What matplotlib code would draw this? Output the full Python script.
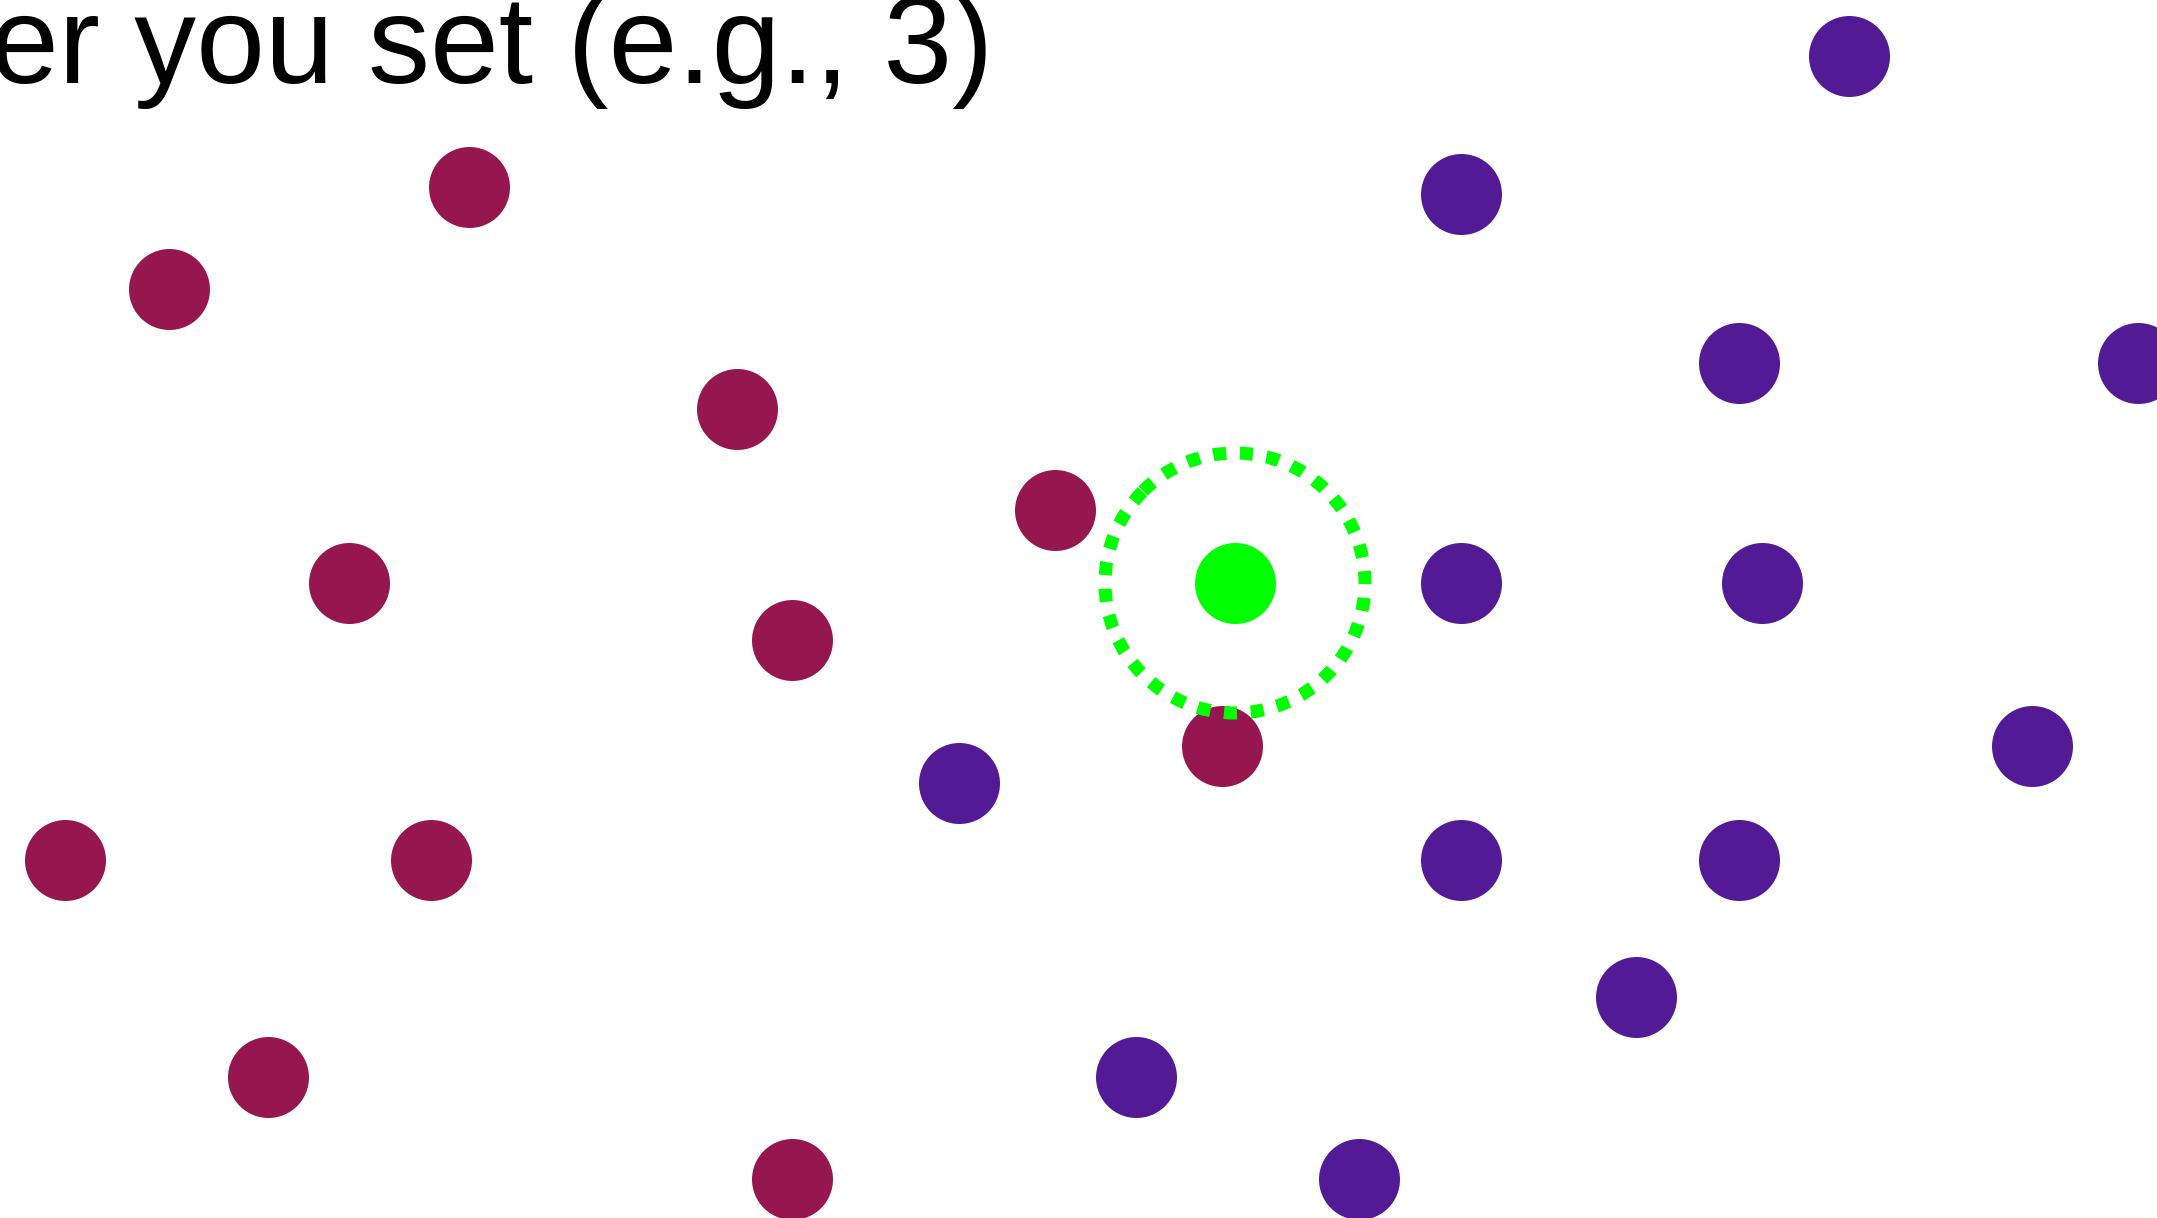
import matplotlib.pyplot as plt
from matplotlib.patches import Arc

# point positions in pixel units of the picture (x right, y down)
maroon_x = [469, 169, 737, 1055, 349, 792, 1222, 65, 431, 268, 792]
maroon_y = [187, 289, 409, 510, 583, 640, 746, 860, 860, 1077, 1179]

purple_x = [1849, 1461, 1739, 2138, 1461, 1762, 959, 2032, 1461, 1739, 1636, 1136, 1359]
purple_y = [56, 194, 363, 363, 583, 583, 783, 746, 860, 860, 997, 1077, 1179]

query_x = [1235]
query_y = [583]
radius = 130

caption = 'er you set (e.g., 3)'

W, H = 2157, 1218
fig = plt.figure(figsize=(W / 100, H / 100), dpi=100)
ax = fig.add_axes([0, 0, 1, 1])
ax.set_xlim(0, W)
ax.set_ylim(H, 0)
ax.set_aspect('equal')
ax.axis('off')

dot = 3400
ax.scatter(maroon_x, maroon_y, s=dot, color='#96174f', linewidths=0, zorder=2)
ax.scatter(purple_x, purple_y, s=dot, color='#521a94', linewidths=0, zorder=2)
ax.scatter(query_x, query_y, s=dot, color='#00ff00', linewidths=0, zorder=3)

# dotted ring around the query point
ring = Arc((query_x[0], query_y[0]), 2 * radius, 2 * radius, angle=225,
           theta1=0, theta2=360, color='#00ff00', lw=9.4,
           linestyle=(0, (1.0, 1.05)), zorder=4)
ax.add_patch(ring)

ax.text(993, 83, caption, ha='right', va='baseline', fontsize=89,
        family=['Liberation Sans', 'DejaVu Sans'], color='black')

fig.savefig('out.png', dpi=100)
